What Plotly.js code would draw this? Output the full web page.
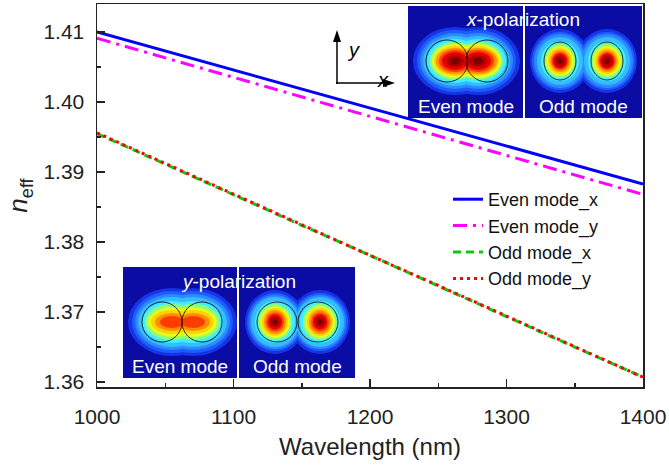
<!DOCTYPE html>
<html>
<head>
<meta charset="utf-8">
<script src="https://cdn.plot.ly/plotly-3.0.1.min.js"></script>
<style>html,body{margin:0;padding:0;background:#fff;}#chart{width:669px;height:466px;}</style>
</head>
<body>
<div id="chart"></div>
<script>
// ---- data ----
const wavelength = [1000, 1050, 1100, 1150, 1200, 1250, 1300, 1350, 1400];
const evenModeX = [1.4100, 1.4073, 1.4046, 1.4019, 1.3992, 1.3964, 1.3937, 1.3910, 1.3883];
const evenModeY = [1.4091, 1.4063, 1.4035, 1.4007, 1.3980, 1.3952, 1.3924, 1.3896, 1.3868];
const oddModeX  = [1.3955, 1.3911, 1.3868, 1.3824, 1.3781, 1.3737, 1.3694, 1.3650, 1.3607];
const oddModeY  = [1.3956, 1.3912, 1.3868, 1.3825, 1.3781, 1.3738, 1.3694, 1.3651, 1.3607];
const seriesNames = ['Even mode_x', 'Even mode_y', 'Odd mode_x', 'Odd mode_y'];
const yTickVals = [1.36, 1.37, 1.38, 1.39, 1.40, 1.41];
const xTickVals = [1000, 1100, 1200, 1300, 1400];

// ---- geometry helpers (pixel -> paper) ----
const L = 97, T = 4, W = 546, H = 383;
const X = px => (px - L) / W;
const Y = py => (T + H - py) / H;

const shapes = [];
const annotations = [];

function rect(x0, y0, x1, y1, fill) {
  shapes.push({type:'rect', xref:'paper', yref:'paper', x0:X(x0), x1:X(x1), y0:Y(y1), y1:Y(y0),
    fillcolor:fill, line:{width:0}, layer:'above'});
}
function ellipse(cx, cy, rx, ry, fill, lineColor) {
  shapes.push({type:'circle', xref:'paper', yref:'paper', x0:X(cx-rx), x1:X(cx+rx), y0:Y(cy+ry), y1:Y(cy-ry),
    fillcolor: fill || 'rgba(0,0,0,0)', line: lineColor ? {color:lineColor, width:1} : {width:0}, layer:'above'});
}
function seg(x0, y0, x1, y1, color, w) {
  shapes.push({type:'line', xref:'paper', yref:'paper', x0:X(x0), x1:X(x1), y0:Y(y0), y1:Y(y1),
    line:{color:color, width:w}, layer:'above'});
}
function tri(pts, color) {
  const p = pts.map((q, i) => (i ? 'L' : 'M') + X(q[0]) + ',' + Y(q[1])).join(' ') + ' Z';
  shapes.push({type:'path', xref:'paper', yref:'paper', path:p, fillcolor:color, line:{width:0}, layer:'above'});
}
const jet = ['#1634e6', '#1f5cff', '#2a8cff', '#36bcff', '#40eeff', '#8cff74', '#e2ff22',
             '#ffd200', '#ff8e00', '#ff3c00', '#e80000', '#b00000', '#7a0000'];
function blob(centers, cy, rxs, rys) {
  for (let k = 0; k < rxs.length; k++) {
    centers.forEach(cx => ellipse(cx, cy, rxs[k], rys[k], jet[k]));
  }
}
function label(px, py, text, size) {
  annotations.push({xref:'paper', yref:'paper', x:X(px), y:Y(py), text:text, showarrow:false,
    xanchor:'center', yanchor:'middle', font:{family:'Arial, Liberation Sans, sans-serif', size:size, color:'#ffffff'}});
}

// top-right inset (x-polarization)
rect(408, 6, 642, 118, '#0a0ca4');
blob([455, 478], 61, [42,38,35,32,28,25,23,21,19,16,13,9,5], [34,31,28,25,22,19,17,15,13,11,9,6,3.5]);
blob([560, 607], 61, [30,28,26,23,19,16,14,12,10,8.5,7,5,2.5], [32,29,27,24,20,17,15,13,11,9,7.5,5.5,3]);
ellipse(447, 61, 21, 21, null, 'rgba(20,20,20,0.85)');
ellipse(487, 61, 21, 21, null, 'rgba(20,20,20,0.85)');
ellipse(560, 61, 16, 19, null, 'rgba(20,20,20,0.85)');
ellipse(607, 61, 16, 19, null, 'rgba(20,20,20,0.85)');
seg(524, 6, 524, 118, '#ffffff', 2);
label(523, 20, '<i>x</i>-polarization', 19);
label(466, 106, 'Even mode', 19);
label(583, 106, 'Odd mode', 19);

// bottom-left inset (y-polarization)
rect(123, 267, 355, 378, '#0a0ca4');
blob([172, 193], 322, [44,40,37,34,30,27,24,21,17,12], [34,31,28,25,21,18,15,12,9,6]);
blob([275, 320], 322, [30,28,26,24,20,17,15,13,11,9,7,5,2.5], [32,29,27,25,21,18,16,14,12,9.5,7.5,5,2.5]);
ellipse(162, 322, 20, 20, null, 'rgba(20,20,20,0.85)');
ellipse(202, 322, 20, 20, null, 'rgba(20,20,20,0.85)');
ellipse(277, 322, 20, 20, null, 'rgba(20,20,20,0.85)');
ellipse(318, 322, 20, 20, null, 'rgba(20,20,20,0.85)');
seg(238, 267, 238, 378, '#ffffff', 2);
label(238, 281, '<i>y</i>-polarization', 19);
label(180, 366, 'Even mode', 19);
label(297, 366, 'Odd mode', 19);

// coordinate arrows
seg(337, 84, 337, 40, '#000000', 1.5);
tri([[333, 42], [341, 42], [337, 30]], '#000000');
seg(336, 83, 385, 83, '#000000', 1.5);
tri([[383, 79], [383, 87], [395, 83]], '#000000');
annotations.push({xref:'paper', yref:'paper', x:X(353), y:Y(37), text:'<i>y</i>', showarrow:false,
  font:{family:'Arial, Liberation Sans, sans-serif', size:20, color:'#000'}});
annotations.push({xref:'paper', yref:'paper', x:X(383), y:Y(67), text:'<i>x</i>', showarrow:false,
  font:{family:'Arial, Liberation Sans, sans-serif', size:20, color:'#000'}});

const traces = [
  {x: wavelength, y: evenModeX, name: seriesNames[0], mode:'lines', line:{color:'#0000ff', width:3}},
  {x: wavelength, y: evenModeY, name: seriesNames[1], mode:'lines', line:{color:'#ff00ff', width:3, dash:'14px,6px,3px,6px'}},
  {x: wavelength, y: oddModeX,  name: seriesNames[2], mode:'lines', line:{color:'#10c810', width:3, dash:'8px,5px'}},
  {x: wavelength, y: oddModeY,  name: seriesNames[3], mode:'lines', line:{color:'#ff0000', width:3, dash:'3px,4px'}}
];

const font = 'Arial, Liberation Sans, sans-serif';
const layout = {
  width: 669, height: 466,
  margin: {l: L, r: 669 - L - W, t: T, b: 466 - T - H},
  paper_bgcolor: '#ffffff', plot_bgcolor: '#ffffff',
  font: {family: font, color: '#222'},
  showlegend: true,
  legend: {x: X(448), y: Y(181), xanchor:'left', yanchor:'top', bgcolor:'rgba(0,0,0,0)',
    font:{family: font, size: 18, color:'#111'}, tracegroupgap: 0},
  xaxis: {range:[1000, 1400], tickvals: xTickVals, ticks:'inside', ticklen:8, tickwidth:1.5, tickcolor:'#222',
    minor:{ticks:'inside', ticklen:4, dtick:50, tickwidth:1.5, tickcolor:'#222'},
    showline:true, mirror:true, linecolor:'#222', linewidth:1.5, showgrid:false, zeroline:false,
    tickfont:{family: font, size: 21, color:'#222'}, ticklabelstandoff: 10,
    title:{text:'Wavelength (nm)', font:{family: font, size: 24, color:'#222'}, standoff: 11}},
  yaxis: {range:[1.3593, 1.414], tickvals: yTickVals, tickformat:'.2f', ticks:'inside', ticklen:8, tickwidth:1.5, tickcolor:'#222',
    minor:{ticks:'inside', ticklen:4, dtick:0.005, tick0:1.36, tickwidth:1.5, tickcolor:'#222'},
    showline:true, mirror:true, linecolor:'#222', linewidth:1.5, showgrid:false, zeroline:false,
    tickfont:{family: font, size: 21, color:'#222'}, ticklabelstandoff: 7,
    title:{text:'<i>n</i><sub>eff</sub>', font:{family: font, size: 26, color:'#222'}, standoff: 8}},
  shapes: shapes,
  annotations: annotations
};

Plotly.newPlot('chart', traces, layout, {displayModeBar:false, staticPlot:true});
</script>
</body>
</html>
